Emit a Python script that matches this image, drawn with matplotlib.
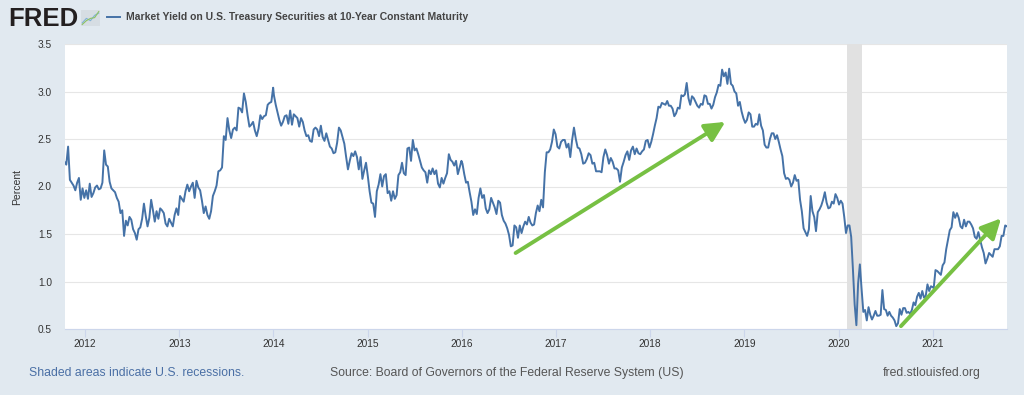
import matplotlib
matplotlib.use("Agg")
import matplotlib.pyplot as plt
import matplotlib.dates as mdates
import numpy as np
import pandas as pd

# weekly-ish readings of the 10y yield (percent), one list per year
y2011 = [2.26, 2.23, 2.42, 2.07, 2.04, 2.01, 1.96, 2.04, 2.09, 1.86, 1.98, 1.88]
y2012 = [1.96, 1.87, 2.03, 1.89, 1.93, 1.99, 2.01, 1.97, 1.98, 2.04, 2.38, 2.23, 2.21,
         2.05, 1.98, 1.96, 1.94, 1.88, 1.84, 1.72, 1.75, 1.48, 1.64, 1.59, 1.68, 1.65,
         1.55, 1.51, 1.44, 1.55, 1.57, 1.66, 1.82, 1.69, 1.58, 1.67, 1.86, 1.75, 1.63,
         1.74, 1.66, 1.77, 1.75, 1.72, 1.61, 1.58, 1.66, 1.62, 1.58, 1.70, 1.77, 1.70]
y2013 = [1.90, 1.87, 1.84, 1.95, 2.02, 1.95, 2.00, 2.04, 1.88, 2.06, 1.99, 1.96, 1.85,
         1.72, 1.79, 1.70, 1.66, 1.74, 1.90, 1.95, 2.01, 2.16, 2.17, 2.20, 2.53, 2.49,
         2.72, 2.59, 2.51, 2.60, 2.62, 2.59, 2.83, 2.82, 2.78, 2.98, 2.89, 2.75, 2.63,
         2.65, 2.68, 2.59, 2.53, 2.61, 2.75, 2.71, 2.74, 2.75, 2.86, 2.88, 2.89, 3.04]
y2014 = [2.96, 2.86, 2.78, 2.70, 2.64, 2.68, 2.74, 2.75, 2.66, 2.80, 2.65, 2.76, 2.74,
         2.72, 2.63, 2.72, 2.68, 2.59, 2.53, 2.54, 2.48, 2.47, 2.60, 2.62, 2.60, 2.53,
         2.64, 2.52, 2.48, 2.56, 2.49, 2.42, 2.40, 2.35, 2.36, 2.46, 2.62, 2.59, 2.52,
         2.45, 2.31, 2.18, 2.27, 2.35, 2.32, 2.37, 2.31, 2.18, 2.31, 2.08, 2.17, 2.25]
y2015 = [2.11, 1.95, 1.83, 1.82, 1.68, 1.95, 2.02, 2.13, 2.00, 2.11, 2.13, 1.93, 1.95,
         1.85, 1.95, 1.87, 1.91, 2.12, 2.15, 2.25, 2.14, 2.12, 2.40, 2.41, 2.27, 2.49,
         2.38, 2.40, 2.34, 2.27, 2.20, 2.17, 2.15, 2.04, 2.17, 2.13, 2.19, 2.13, 2.17,
         2.03, 1.99, 2.09, 2.03, 2.09, 2.14, 2.34, 2.28, 2.26, 2.22, 2.27, 2.13, 2.20, 2.27]
y2016 = [2.24, 2.13, 2.04, 2.05, 1.94, 1.84, 1.70, 1.76, 1.71, 1.88, 1.98, 1.88, 1.91,
         1.77, 1.72, 1.76, 1.88, 1.83, 1.78, 1.71, 1.85, 1.83, 1.70, 1.64, 1.61, 1.56,
         1.49, 1.37, 1.38, 1.59, 1.57, 1.46, 1.59, 1.51, 1.58, 1.63, 1.60, 1.68, 1.62,
         1.59, 1.60, 1.72, 1.80, 1.74, 1.86, 1.78, 2.15, 2.36, 2.36, 2.39, 2.47, 2.60, 2.55]
y2017 = [2.42, 2.40, 2.47, 2.49, 2.49, 2.41, 2.45, 2.31, 2.49, 2.62, 2.50, 2.41, 2.40,
         2.34, 2.24, 2.25, 2.29, 2.35, 2.33, 2.24, 2.25, 2.16, 2.16, 2.16, 2.15, 2.31,
         2.39, 2.33, 2.24, 2.30, 2.26, 2.19, 2.19, 2.17, 2.05, 2.20, 2.26, 2.33, 2.37,
         2.28, 2.38, 2.42, 2.34, 2.40, 2.35, 2.34, 2.37, 2.39, 2.48, 2.49, 2.41]
y2018 = [2.47, 2.55, 2.64, 2.72, 2.84, 2.83, 2.88, 2.87, 2.86, 2.90, 2.85, 2.85, 2.82,
         2.74, 2.77, 2.83, 2.82, 2.96, 2.95, 2.97, 3.09, 2.93, 2.86, 2.95, 2.93, 2.89,
         2.85, 2.83, 2.87, 2.86, 2.96, 2.95, 2.87, 2.87, 2.82, 2.86, 2.94, 2.99, 3.07,
         3.06, 3.23, 3.16, 3.20, 3.08, 3.24, 3.08, 3.06, 3.00, 2.98, 2.85, 2.89, 2.79, 2.72]
y2019 = [2.67, 2.70, 2.78, 2.76, 2.63, 2.63, 2.66, 2.65, 2.76, 2.64, 2.59, 2.44, 2.41,
         2.41, 2.50, 2.56, 2.56, 2.50, 2.54, 2.47, 2.39, 2.32, 2.14, 2.08, 2.09, 2.07,
         2.00, 2.04, 2.12, 2.06, 2.07, 1.86, 1.74, 1.56, 1.52, 1.48, 1.55, 1.90, 1.74,
         1.68, 1.53, 1.73, 1.76, 1.80, 1.86, 1.94, 1.83, 1.77, 1.78, 1.84, 1.82, 1.92, 1.88]
y2020 = [1.81, 1.85, 1.82, 1.68, 1.51, 1.59, 1.59, 1.47, 1.13, 0.76, 0.54, 0.98, 1.18,
         0.92, 0.68, 0.70, 0.59, 0.73, 0.65, 0.60, 0.64, 0.69, 0.64, 0.64, 0.65, 0.91,
         0.71, 0.70, 0.64, 0.68, 0.64, 0.62, 0.59, 0.53, 0.56, 0.71, 0.65, 0.72, 0.72,
         0.67, 0.68, 0.66, 0.70, 0.78, 0.75, 0.84, 0.88, 0.82, 0.90, 0.83, 0.85, 0.97,
         0.90, 0.95, 0.94]
y2021 = [0.93, 1.12, 1.11, 1.09, 1.07, 1.17, 1.20, 1.34, 1.44, 1.54, 1.57, 1.73, 1.67,
         1.72, 1.67, 1.58, 1.56, 1.65, 1.58, 1.63, 1.63, 1.60, 1.56, 1.47, 1.45, 1.52,
         1.44, 1.36, 1.30, 1.19, 1.24, 1.30, 1.28, 1.26, 1.34, 1.34, 1.34, 1.37, 1.48,
         1.48, 1.59, 1.58]

year_spans = [("2011-10-14", "2011-12-30"), ("2012-01-06", "2012-12-28"),
              ("2013-01-04", "2013-12-31"), ("2014-01-03", "2014-12-26"),
              ("2015-01-02", "2015-12-31"), ("2016-01-04", "2016-12-30"),
              ("2017-01-06", "2017-12-29"), ("2018-01-05", "2018-12-28"),
              ("2019-01-04", "2019-12-27"), ("2020-01-03", "2020-12-31"),
              ("2021-01-04", "2021-10-15")]

recession = ("2020-02-01", "2020-04-01")

# hand drawn green arrows (start, tip) as (date, percent)
arrow1 = (("2016-07-28", 1.30), ("2018-10-19", 2.68))
arrow2 = (("2020-08-30", 0.53), ("2021-09-22", 1.665))

yticks = [0.5, 1.0, 1.5, 2.0, 2.5, 3.0, 3.5]

series = [y2011, y2012, y2013, y2014, y2015, y2016, y2017, y2018, y2019, y2020, y2021]
dates = []
vals = []
for s, (a, b) in zip(series, year_spans):
    dates.extend(pd.date_range(a, b, periods=len(s)))
    vals.extend(s)
dates = pd.DatetimeIndex(dates)

plt.rcParams['font.family'] = ['Liberation Sans', 'DejaVu Sans']
bg = "#e1e9f0"
fig = plt.figure(figsize=(10.24, 3.95), dpi=100, facecolor=bg)
ax = fig.add_axes([65/1024, 1-329/395, (1006.7-65)/1024, (329-44)/395])
ax.set_facecolor("white")

ax.axvspan(pd.Timestamp(recession[0]), pd.Timestamp(recession[1]), color="#e1e1e1", lw=0, zorder=1)
ax.plot(dates, vals, color="#4572a7", lw=1.4, zorder=3)

for (s, t) in (arrow1, arrow2):
    ax.annotate("", xy=(pd.Timestamp(t[0]), t[1]), xytext=(pd.Timestamp(s[0]), s[1]),
                arrowprops=dict(arrowstyle="-|>,head_length=1.0,head_width=0.5",
                                color="#77c043", lw=2.8, mutation_scale=12,
                                shrinkA=0, shrinkB=0), zorder=4)

ax.set_xlim(pd.Timestamp("2011-10-16"), pd.Timestamp("2021-10-14"))
ax.set_ylim(0.5, 3.5)
ax.set_yticks(yticks)
ax.set_yticklabels([f"{v:.1f}" for v in yticks])
ax.yaxis.grid(True, color="#e6e6e6", lw=0.8)
ax.set_axisbelow(True)
ax.xaxis.set_major_locator(mdates.YearLocator())
ax.xaxis.set_major_formatter(mdates.DateFormatter("%Y"))

for sp in ["top", "right", "left"]:
    ax.spines[sp].set_visible(False)
ax.spines["bottom"].set_color("#ccd6eb")
ax.spines["bottom"].set_linewidth(0.8)
ax.tick_params(axis="y", length=0, pad=9.5, labelsize=7.3, labelcolor="#333333")
ax.tick_params(axis="x", length=6, width=0.8, color="#ccd6eb", pad=1.5,
               labelsize=7.3, labelcolor="#333333")

fig.text(17/1024, 1-187/395, "Percent", rotation=90, ha="center", va="center",
         fontsize=7.5, color="#333333")

# header
fig.text(8/1024, 1-18.5/395, "FRED", fontsize=18.5, fontweight="black", color="#231f20",
         ha="left", va="center")
icon = fig.add_axes([81/1024, 1-26/395, 19/1024, 16/395])
icon.set_facecolor("#d6dde3")
icon.plot([0, 1, 2, 3, 4], [0.2, 0.5, 0.35, 0.7, 0.85], color="#7fb2d8", lw=0.8)
icon.plot([0, 1, 2, 3, 4], [0.1, 0.35, 0.5, 0.55, 0.95], color="#8dc262", lw=0.8)
icon.set_xlim(-0.3, 4.3)
icon.set_ylim(0, 1.05)
icon.set_xticks([])
icon.set_yticks([])
for sp in icon.spines.values():
    sp.set_visible(False)
fig.add_artist(plt.Line2D([107/1024, 120/1024], [1-17/395, 1-17/395], color="#4572a7", lw=1.4))
fig.text(126/1024, 1-17.5/395, "Market Yield on U.S. Treasury Securities at 10-Year Constant Maturity",
         fontsize=7.5, fontweight="bold", color="#444444", ha="left", va="center")

# footer
fig.text(29/1024, 1-373/395, "Shaded areas indicate U.S. recessions.", fontsize=8.8,
         color="#4a6fa5", ha="left", va="center")
fig.text(330/1024, 1-373/395, "Source: Board of Governors of the Federal Reserve System (US)",
         fontsize=8.8, color="#555555", ha="left", va="center")
fig.text(883/1024, 1-373/395, "fred.stlouisfed.org", fontsize=8.8, color="#555555",
         ha="left", va="center")

fig.savefig("out.png", dpi=100, facecolor=bg)
